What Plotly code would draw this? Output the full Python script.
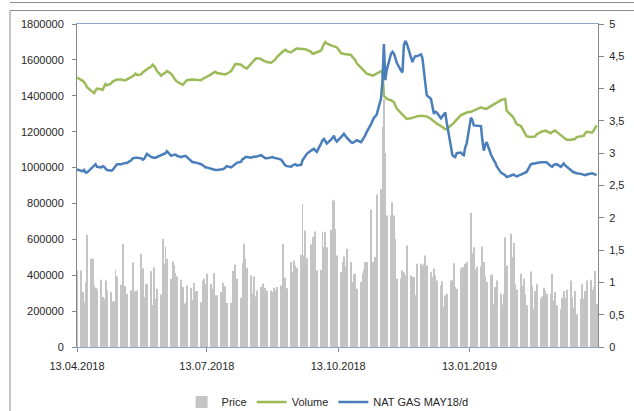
import pandas as pd
import plotly.graph_objects as go

# trading days (x categories)
dates = pd.bdate_range("2018-04-13", "2019-04-12")

price = [
    427000, 427000, 306000, 250000, 362000, 625000, 492000, 492000, 343000, 330000,
    319000, 375000, 278000, 269000, 371000, 315000, 306000, 254000, 254000, 430000,
    393000, 347000, 575000, 340000, 340000, 297000, 315000, 471000, 310000, 310000,
    315000, 519000, 438000, 278000, 352000, 352000, 423000, 232000, 445000, 269000,
    325000, 293000, 603000, 464000, 560000, 492000, 380000, 477000, 454000, 412000,
    393000, 375000, 334000, 241000, 250000, 343000, 330000, 263000, 356000, 312000,
    312000, 250000, 371000, 380000, 349000, 408000,
    352000, 325000, 412000, 288000, 288000, 306000, 358000, 260000, 338000, 245000,
    245000, 423000, 315000, 460000, 380000, 275000, 467000, 575000, 492000, 441000,
    399000, 297000, 393000, 282000, 315000, 334000, 352000, 306000, 330000, 315000,
    315000, 306000, 330000, 315000, 334000, 343000, 575000, 371000, 386000, 328000,
    473000, 417000, 482000, 454000, 441000, 514000, 798000, 510000, 649000, 495000,
    571000, 612000, 616000, 644000, 427000, 430000, 640000, 556000, 642000, 556000,
    653000, 820000, 816000, 658000, 510000,
    417000, 473000, 505000, 449000, 547000, 473000, 362000, 404000, 408000, 325000,
    362000, 408000, 430000, 473000, 473000, 766000, 473000, 473000, 501000, 850000,
    881000, 1228000, 1380000, 1080000, 733000, 733000, 807000, 733000, 603000, 380000,
    380000, 427000, 417000, 399000, 566000, 399000, 390000, 390000, 288000, 464000,
    464000, 454000, 464000, 510000, 454000, 417000, 390000, 436000, 399000, 371000,
    343000, 367000, 223000, 288000, 297000, 371000, 371000, 467000, 334000, 325000,
    436000, 445000, 445000, 464000, 473000,
    748000, 523000, 556000, 430000, 449000, 449000, 560000, 473000, 393000, 362000,
    399000, 404000, 237000, 334000, 371000, 297000, 237000, 297000, 612000, 454000,
    631000, 501000, 579000, 349000, 321000, 408000, 340000, 380000, 293000, 232000,
    421000, 338000, 213000, 312000, 349000, 269000, 282000, 330000, 315000, 297000,
    297000, 408000, 260000, 306000, 232000, 210000, 275000, 312000, 275000, 319000,
    371000, 278000, 219000, 312000, 182000, 269000, 349000, 269000, 312000, 371000,
    375000, 319000, 334000, 423000, 241000,
]

volume = [
    4.17, 4.14, 4.12, 4.10, 4.07, 4.02, 3.97, 3.95, 3.93, 3.97,
    4.00, 3.99, 3.98, 4.03, 4.07, 4.05, 4.08, 4.11, 4.12, 4.13,
    4.14, 4.14, 4.13, 4.13, 4.13, 4.14, 4.17, 4.19, 4.21, 4.23,
    4.21, 4.22, 4.25, 4.27, 4.28, 4.30, 4.34, 4.37, 4.35, 4.32,
    4.27, 4.20, 4.22, 4.23, 4.25, 4.27, 4.23, 4.20, 4.16, 4.13,
    4.11, 4.07, 4.06, 4.08, 4.11, 4.13, 4.14, 4.14, 4.14, 4.14,
    4.14, 4.13, 4.15, 4.16, 4.17, 4.18, 4.22, 4.24, 4.25, 4.26,
    4.24, 4.23, 4.23, 4.22, 4.22, 4.23, 4.27, 4.31, 4.35, 4.38,
    4.38, 4.37, 4.35, 4.33, 4.32, 4.31, 4.39, 4.41, 4.44, 4.46,
    4.47, 4.46, 4.44, 4.43, 4.42, 4.41, 4.40, 4.42, 4.43, 4.45,
    4.49, 4.54, 4.57, 4.59, 4.60, 4.58, 4.56, 4.58, 4.60, 4.61,
    4.62, 4.62, 4.62, 4.61, 4.61, 4.60, 4.57, 4.54, 4.54, 4.56,
    4.56, 4.59, 4.65, 4.69, 4.72, 4.70, 4.67, 4.66, 4.66, 4.65,
    4.64, 4.55, 4.54, 4.53, 4.53, 4.53, 4.52, 4.49, 4.46, 4.44,
    4.39, 4.32, 4.29, 4.27, 4.25, 4.23, 4.21, 4.20, 4.21, 4.22,
    4.23, 4.26, 4.28, 3.89, 3.86, 3.84, 3.82, 3.81, 3.79, 3.74,
    3.69, 3.62, 3.60, 3.58, 3.55, 3.53, 3.54, 3.55, 3.55, 3.56,
    3.57, 3.58, 3.58, 3.57, 3.57, 3.57, 3.53, 3.51, 3.49, 3.47,
    3.46, 3.42, 3.40, 3.39, 3.37, 3.37, 3.42, 3.45, 3.47, 3.49,
    3.52, 3.59, 3.60, 3.62, 3.63, 3.63, 3.64, 3.65, 3.66, 3.66,
    3.67, 3.71, 3.70, 3.69, 3.69, 3.69, 3.73, 3.75, 3.76, 3.78,
    3.79, 3.82, 3.83, 3.83, 3.84, 3.66, 3.60, 3.57, 3.54, 3.49,
    3.45, 3.42, 3.38, 3.34, 3.28, 3.26, 3.25, 3.25, 3.26, 3.26,
    3.29, 3.33, 3.34, 3.34, 3.35, 3.34, 3.31, 3.33, 3.34, 3.35,
    3.33, 3.28, 3.26, 3.24, 3.22, 3.21, 3.21, 3.21, 3.22, 3.22,
    3.25, 3.26, 3.26, 3.27, 3.31, 3.33, 3.32, 3.32, 3.35, 3.40,
    3.43,
]

natgas = [
    2.75, 2.73, 2.72, 2.74, 2.70, 2.70, 2.77, 2.79, 2.81, 2.83,
    2.79, 2.78, 2.80, 2.79, 2.76, 2.74, 2.73, 2.74, 2.77, 2.80,
    2.83, 2.83, 2.84, 2.84, 2.85, 2.85, 2.89, 2.92, 2.93, 2.93,
    2.93, 2.92, 2.90, 2.91, 2.95, 2.99, 2.94, 2.93, 2.93, 2.93,
    2.94, 2.96, 2.97, 2.98, 3.00, 3.03, 2.96, 2.97, 2.98, 2.98,
    2.96, 2.94, 2.95, 2.96, 2.96, 2.94, 2.87, 2.86, 2.86, 2.85,
    2.85, 2.83, 2.82, 2.80, 2.78, 2.78, 2.76, 2.75, 2.75, 2.74,
    2.74, 2.74, 2.75, 2.76, 2.78, 2.80, 2.78, 2.80, 2.82, 2.84,
    2.85, 2.87, 2.91, 2.92, 2.94, 2.94, 2.93, 2.94, 2.94, 2.95,
    2.95, 2.97, 2.95, 2.94, 2.92, 2.92, 2.94, 2.94, 2.93, 2.92,
    2.92, 2.90, 2.87, 2.84, 2.81, 2.80, 2.79, 2.81, 2.82, 2.83,
    2.81, 2.82, 2.89, 2.93, 2.97, 2.99, 3.04, 3.06, 3.07, 3.04,
    3.02, 3.15, 3.20, 3.22, 3.18, 3.15, 3.21, 3.25, 3.27, 3.21,
    3.18, 3.25, 3.28, 3.30, 3.27, 3.24, 3.17, 3.16, 3.17, 3.19,
    3.20, 3.17, 3.20, 3.24, 3.28, 3.33, 3.45, 3.51, 3.55, 3.57,
    3.60, 3.85, 4.12, 4.69, 4.13, 4.29, 4.54, 4.57, 4.54, 4.48,
    4.40, 4.28, 4.25, 4.67, 4.74, 4.70, 4.47, 4.41, 4.47, 4.50,
    4.50, 4.53, 4.47, 4.28, 4.13, 3.90, 3.84, 3.72, 3.61, 3.64,
    3.63, 3.54, 3.57, 3.61, 3.63, 3.48, 3.04, 2.97, 2.95, 2.94,
    3.00, 3.01, 2.98, 2.97, 3.09, 3.15, 3.55, 3.51, 3.43, 3.43,
    3.43, 3.42, 3.20, 3.04, 3.13, 3.17, 2.98, 2.93, 2.89, 2.86,
    2.80, 2.70, 2.69, 2.68, 2.66, 2.63, 2.66, 2.67, 2.67, 2.65,
    2.64, 2.67, 2.68, 2.69, 2.70, 2.71, 2.83, 2.84, 2.84, 2.84,
    2.85, 2.86, 2.86, 2.86, 2.86, 2.86, 2.80, 2.79, 2.82, 2.83,
    2.83, 2.79, 2.82, 2.84, 2.81, 2.79, 2.74, 2.71, 2.70, 2.70,
    2.69, 2.68, 2.67, 2.67, 2.66, 2.67, 2.69, 2.69, 2.68, 2.67,
    2.66,
]

x_tickvals = ["2018-04-13", "2018-07-13", "2018-10-13", "2019-01-13"]
x_ticktext = ["13.04.2018", "13.07.2018", "13.10.2018", "13.01.2019"]

FONT = "Liberation Sans, Arial, sans-serif"
TXT = "#262626"
AX = "#868686"

fig = go.Figure()
fig.add_trace(go.Bar(x=dates, y=price, name="Price", marker=dict(color="#c4c4c4", line=dict(width=0)), yaxis="y"))
fig.add_trace(go.Scatter(x=dates, y=volume, name="Volume", mode="lines", line=dict(color="#9bbb59", width=2.5), yaxis="y2"))
fig.add_trace(go.Scatter(x=dates, y=natgas, name="NAT GAS MAY18/d", mode="lines", line=dict(color="#4a7ebb", width=2.5), yaxis="y2"))

fig.update_layout(
    width=634, height=411,
    margin=dict(l=77, r=36, t=24, b=64, autoexpand=False),
    paper_bgcolor="white", plot_bgcolor="white",
    separators=", ",
    font=dict(family=FONT, size=11, color=TXT),
    bargap=0.35,
    showlegend=True,
    legend=dict(orientation="h", x=0.481, xanchor="center", y=-0.17, yanchor="middle",
                font=dict(size=11, color=TXT), itemwidth=30, traceorder="normal", bgcolor="rgba(0,0,0,0)"),
    xaxis=dict(type="date", range=["2018-04-13", "2019-04-13"], tickvals=x_tickvals, ticktext=x_ticktext,
               showgrid=False, zeroline=False, showline=True, linecolor="#8ea5c8", linewidth=1, mirror=True,
               ticks="outside", ticklen=4, tickcolor=AX, ticklabelstandoff=5, tickfont=dict(size=11, color=TXT)),
    yaxis=dict(range=[0, 1800000], dtick=200000, tickformat="d", showgrid=False, zeroline=False,
               showline=True, linecolor=AX, linewidth=1, ticks="outside", ticklen=4, tickcolor=AX,
               ticklabelstandoff=6, tickfont=dict(size=11, color=TXT)),
    yaxis2=dict(range=[0, 5], dtick=0.5, overlaying="y", side="right", showgrid=False, zeroline=False,
                showline=True, linecolor=AX, linewidth=1, ticks="outside", ticklen=5, tickcolor=AX,
                ticklabelstandoff=3, tickfont=dict(size=11, color=TXT)),
    shapes=[
        dict(type="rect", xref="paper", yref="paper", x0=-0.1286, x1=1.08, y0=-0.25, y1=1.0417,
             line=dict(color="#8c8c8c", width=1), fillcolor="rgba(0,0,0,0)", layer="below"),
        dict(type="line", xref="paper", yref="paper", x0=-0.1286, x1=1.08, y0=1.0665, y1=1.0665,
             line=dict(color="#8c8c8c", width=1)),
    ],
)

fig.write_html("out.html", config={"displayModeBar": False},
               post_script="document.body.style.margin='0';")
